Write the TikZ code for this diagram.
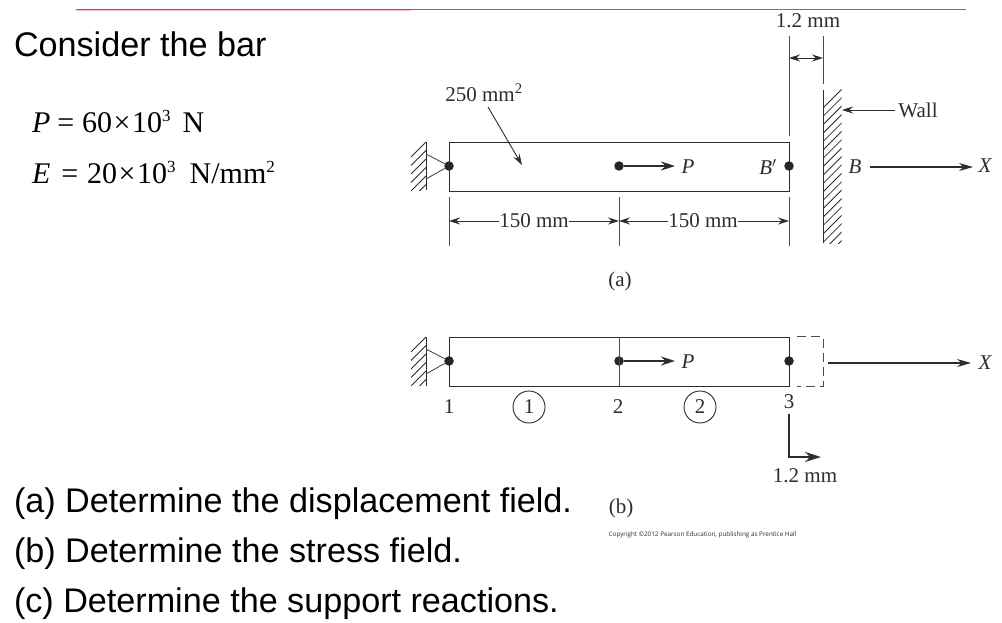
\documentclass[tikz,border=0pt]{standalone}
\usepackage{fontspec}
\setmainfont{Liberation Serif}
\newfontfamily\arialf{Liberation Sans}
\newfontfamily\smallf{Open Sans}
\usetikzlibrary{arrows.meta}
\definecolor{ink}{RGB}{45,45,45}
\definecolor{rulered}{RGB}{208,72,84}
\definecolor{rulepink}{RGB}{250,190,190}
\newcommand{\supthree}{\raisebox{11pt}{\fontsize{17}{17}\selectfont 3}}
\newcommand{\suptwo}{\raisebox{11pt}{\fontsize{17}{17}\selectfont 2}}
\tikzset{
 x=1pt,y=-1pt,
 lbl/.style={inner sep=0,outer sep=0,text=ink,font=\fontsize{21}{21}\selectfont},
 ital/.style={inner sep=0,outer sep=0,text=ink,font=\fontsize{21}{21}\selectfont\itshape},
 slide/.style={inner sep=0,outer sep=0,anchor=base west,text=black,font=\arialf\fontsize{34.15}{36}\selectfont},
 eqn/.style={inner sep=0,outer sep=0,anchor=base west,text=black,font=\fontsize{30}{30}\selectfont},
 barline/.style={draw=ink,line width=1pt},
 thin line/.style={draw=ink!85,line width=0.9pt},
 hatch/.style={draw=ink,line width=0.8pt},
 force/.style={draw=ink,line width=1.6pt,-{Stealth[length=14pt,width=9pt]}},
 longforce/.style={draw=ink,line width=1.3pt,-{Stealth[length=14pt,width=8pt]}},
 dimarrow/.style={draw=ink,line width=0.9pt,-{Stealth[length=11pt,width=7pt]}},
 dotnode/.style={circle,fill=black!85,inner sep=0,minimum size=9.5pt},
 num/.style={circle,draw=ink,line width=0.9pt,inner sep=0,minimum size=32pt,text=ink,font=\fontsize{21}{21}\selectfont},
}
\begin{document}
\begin{tikzpicture}
\useasboundingbox[fill=white] (0,0) rectangle (1002,623);
% top rule
\coordinate (r0) at (76,10.3); \coordinate (r1) at (411,10.3);
\coordinate (r3) at (76,9.4); \coordinate (r2) at (966,9.4);
\draw[draw=rulepink,line width=1pt] (r0)--(r1);
\draw[draw=rulered,line width=0.8pt] (r3)--(r2);
% left text
\node[slide] (t0) at (14,57) {Consider the bar};
\node[eqn] (eq1) at (32,133) {\textit{P}\hspace{7pt}=\hspace{8pt}60\hspace{1.5pt}×\hspace{1.5pt}10\supthree\hspace{12pt}N};
\node[eqn] (eq2) at (32,184) {\textit{E}\hspace{11pt}=\hspace{9pt}20\hspace{1.5pt}×\hspace{1.5pt}10\supthree\hspace{14pt}N/mm\suptwo};
\node[slide] (qa) at (14,512) {(a) Determine the displacement field.};
\node[slide] (qb) at (14,562) {(b) Determine the stress field.};
\node[slide] (qc) at (14,612) {(c) Determine the support reactions.};
% ---- figure (a)
\node[draw=ink,line width=1.1pt,inner sep=0,minimum width=340pt,minimum height=49pt,anchor=north west] (bara) at (449,142) {};
\node[dotnode] (a1) at (449,166) {};
\node[dotnode] (a2) at (619,166) {};
\node[dotnode] (a3) at (789,166) {};
% support a
\coordinate (sa0) at (426,142); \coordinate (sa1) at (426,190.5);
\coordinate (sat) at (426,154); \coordinate (sab) at (426,179);
\draw[barline] (sa0)--(sa1);
\draw[thin line] (sat)--(a1)--(sab);
\begin{scope}
\clip (411,141.5) rectangle (426,190.5);
\foreach \y in {142,150.5,...,210} \draw[hatch] (426,\y)--(410,\y+16);
\end{scope}
% load P a
\node[ital] (pa) at (688,167) {P};
\draw[force] (a2)--(675,166);
% area
\node[lbl] (area) at (484,93) {250 mm\textsuperscript{2}};
\coordinate (areaS) at (488,107); \coordinate (areaT) at (522,165);
\draw[dimarrow] (areaS)--(areaT);
% dims
\coordinate (da0) at (449,197); \coordinate (da0b) at (449,246);
\coordinate (da1) at (619,197); \coordinate (da1b) at (619,246);
\coordinate (da2) at (789,197); \coordinate (da2b) at (789,246);
\draw[thin line] (da0)--(da0b) (da1)--(da1b) (da2)--(da2b);
\node[lbl] (d1) at (534,221) {150 mm};
\node[lbl] (d2) at (703,221) {150 mm};
\coordinate (a0m) at (449,221); \coordinate (a1m) at (619,221); \coordinate (a2m) at (789,221);
\draw[dimarrow] (d1.west)--(a0m);
\draw[dimarrow] (d1.east)--(a1m);
\draw[dimarrow] (d2.west)--(a1m);
\draw[dimarrow] (d2.east)--(a2m);
\node[lbl] (capa) at (620,281) {(a)};
\node[ital] (bp) at (768,167) {B\textnormal{$'$}};
% gap
\node[lbl] (gap) at (808,21) {1.2 mm};
\coordinate (g0) at (789,36); \coordinate (g0b) at (789,136);
\coordinate (g1) at (823,36); \coordinate (g1b) at (823,84);
\draw[thin line] (g0)--(g0b) (g1)--(g1b);
\coordinate (gm0) at (789,58); \coordinate (gm1) at (823,58);
\draw[draw=ink,line width=0.9pt,{Stealth[length=11pt,width=7pt]}-{Stealth[length=11pt,width=7pt]}] (gm0)--(gm1);
% wall
\coordinate (w0) at (823,90); \coordinate (w1) at (823,243);
\draw[barline] (w0)--(w1);
\begin{scope}
\clip (823,89.5) rectangle (841.5,243);
\foreach \y in {108,116.4,...,270} \draw[hatch] (823,\y)--(842,\y-19);
\end{scope}
\node[lbl] (wall) at (918,110) {Wall};
\coordinate (wallT) at (842,110);
\draw[dimarrow,shorten <=3pt] (wall.west)--(wallT);
\node[ital] (ba) at (855,167) {B};
\node[ital] (xa) at (985,166) {X};
\coordinate (xas) at (870,167); \coordinate (xae) at (973,167);
\draw[longforce] (xas)--(xae);
% ---- figure (b)
\node[draw=ink,line width=1.1pt,inner sep=0,minimum width=340pt,minimum height=49pt,anchor=north west] (barb) at (449,337) {};
\node[dotnode] (b1) at (449,361) {};
\node[dotnode] (b2) at (619,361) {};
\node[dotnode] (b3) at (789,361) {};
\coordinate (b2t) at (619,337); \coordinate (b2b) at (619,386);
\draw[thin line] (b2t)--(b2b);
% support b
\coordinate (sb0) at (426,337); \coordinate (sb1) at (426,385.5);
\coordinate (sbt) at (426,349); \coordinate (sbb) at (426,374);
\draw[barline] (sb0)--(sb1);
\draw[thin line] (sbt)--(b1)--(sbb);
\begin{scope}
\clip (411,336.5) rectangle (426,385.5);
\foreach \y in {337,345.5,...,405} \draw[hatch] (426,\y)--(410,\y+16);
\end{scope}
\node[ital] (pb) at (688,362) {P};
\draw[force] (b2)--(675,361);
% dashed extension
\coordinate (e0) at (797,336.5); \coordinate (e1) at (823,336.5);
\coordinate (e2) at (823,386); \coordinate (e3) at (797,386);
\draw[draw=ink!85,line width=1pt,dash pattern=on 9pt off 5pt] (e0)--(e1)--(e2)--(e3);
\coordinate (xs) at (828,363); \coordinate (xe) at (971,363);
\node[ital] (xb) at (985,363) {X};
\draw[longforce] (xs)--(xe);
% labels
\node[lbl] (n1) at (449,407) {1};
\node[num] (c1) at (529,407) {1};
\node[lbl] (n2) at (618,407) {2};
\node[num] (c2) at (700,407) {2};
\node[lbl] (n3) at (789,402) {3};
\coordinate (l0) at (789,414); \coordinate (l1) at (789,457); \coordinate (l2) at (821,457);
\draw[draw=ink,line width=1.9pt,-{Stealth[length=16pt,width=10pt]}] (l0)--(l1)--(l2);
\node[lbl] (ll) at (805,476) {1.2 mm};
\node[lbl] (capb) at (621,508) {(b)};
\node[inner sep=0,text=ink,font=\smallf\fontsize{6.33}{7}\selectfont] (copy) at (702.5,535) {Copyright ©2012 Pearson Education, publishing as Prentice Hall};
\end{tikzpicture}
\end{document}
